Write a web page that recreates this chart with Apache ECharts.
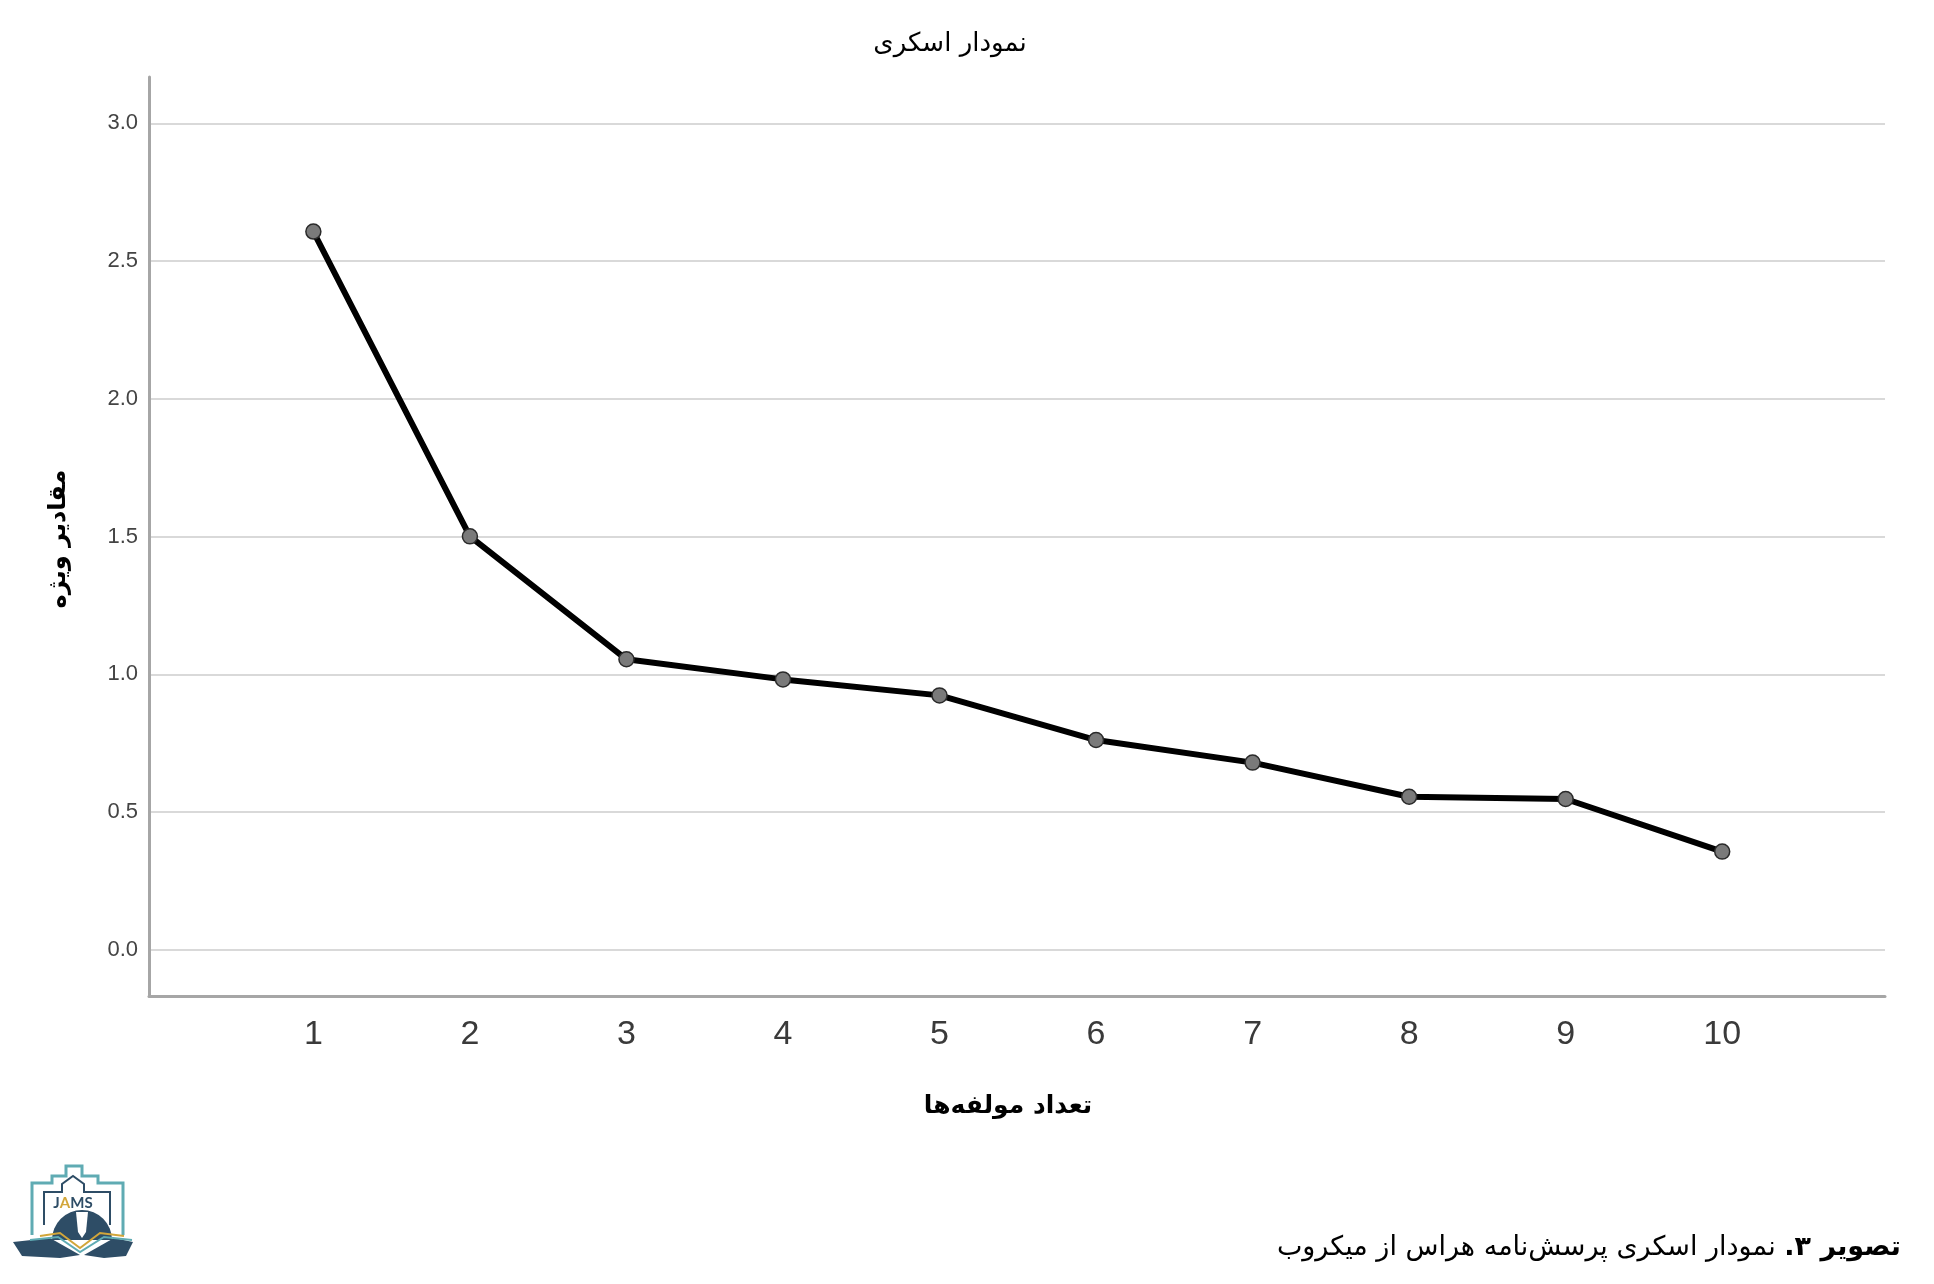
<!DOCTYPE html>
<html>
<head>
<meta charset="utf-8">
<script src="https://cdn.jsdelivr.net/npm/echarts@6/dist/echarts.min.js"></script>
<style>
html,body{margin:0;padding:0;background:#fff;}
#chart{width:1934px;height:1284px;}
</style>
</head>
<body>
<div id="chart"></div>
<script>
// ---- data ----
const components = [1, 2, 3, 4, 5, 6, 7, 8, 9, 10];
const eigenvalues = [2.607, 1.501, 1.055, 0.982, 0.924, 0.762, 0.680, 0.556, 0.548, 0.357];
const yTickValues = [0, 0.5, 1.0, 1.5, 2.0, 2.5, 3.0];
const titleText = 'نمودار اسکری';
const xAxisTitle = 'تعداد مولفه‌ها';
const yAxisTitle = 'مقادیر ویژه';
const captionBold = 'تصویر ۳.\u200F';
const captionRest = 'نمودار اسکری پرسش‌نامه هراس از میکروب';

const X_MIN = -0.05, X_MAX = 11.04;
const FA = "'DejaVu Sans', 'Noto Sans', sans-serif";

const chart = echarts.init(document.getElementById('chart'), null, {renderer: 'canvas'});

const option = {
  backgroundColor: '#ffffff',
  animation: false,
  grid: [
    // frame grid: axis lines and x labels
    {left: 149, right: 49, top: 77, bottom: 288, containLabel: false},
    // data grid: 0..3 range
    {left: 149, right: 49, top: 123.3, bottom: 334, containLabel: false}
  ],
  xAxis: [
    {
      gridIndex: 0, type: 'value', min: X_MIN, max: X_MAX,
      axisLine: {show: true, onZero: false, lineStyle: {color: '#a6a6a6', width: 3}},
      axisTick: {show: false},
      splitLine: {show: false},
      axisLabel: {
        customValues: components,
        color: '#3a3a3a', fontSize: 34, margin: 22,
        fontFamily: "'Liberation Sans Narrow', 'Liberation Sans', Arial, sans-serif"
      }
    },
    {
      gridIndex: 1, type: 'value', min: X_MIN, max: X_MAX, show: false
    }
  ],
  yAxis: [
    {
      gridIndex: 0, type: 'value', min: 0, max: 1,
      axisLine: {show: true, onZero: false, lineStyle: {color: '#a6a6a6', width: 3}},
      axisTick: {show: false}, axisLabel: {show: false}, splitLine: {show: false}
    },
    {
      gridIndex: 1, type: 'value', min: 0, max: 3, interval: 0.5,
      axisLine: {show: false, onZero: false}, axisTick: {show: false},
      splitLine: {show: true, lineStyle: {color: '#d9d9d9', width: 2}},
      axisLabel: {
        customValues: yTickValues,
        formatter: v => v.toFixed(1),
        color: '#444', fontSize: 22, margin: 11,
        fontFamily: "'Liberation Sans', Arial, sans-serif"
      }
    }
  ],
  series: [{
    type: 'line',
    xAxisIndex: 1, yAxisIndex: 1,
    data: components.map((c, i) => [c, eigenvalues[i]]),
    lineStyle: {color: '#000', width: 6},
    symbol: 'circle', symbolSize: 15,
    itemStyle: {color: '#7a7a7a', borderColor: '#2a2a2a', borderWidth: 1.5},
    z: 5
  }],
  graphic: [
    {
      type: 'text', x: 950, y: 44,
      style: {text: titleText, font: '26px ' + FA, fill: '#000', align: 'center', verticalAlign: 'middle'}
    },
    {
      type: 'text', x: 1008, y: 1106,
      style: {text: xAxisTitle, font: 'bold 25px ' + FA, fill: '#000', align: 'center', verticalAlign: 'middle'}
    },
    {
      type: 'text', x: 59, y: 539, rotation: Math.PI / 2,
      style: {text: yAxisTitle, font: 'bold 24px ' + FA, fill: '#000', align: 'center', verticalAlign: 'middle'}
    },
    {
      type: 'text', x: 1901, y: 1248,
      style: {
        text: '{n|' + captionRest + '} {b|' + captionBold + '}',
        align: 'right', verticalAlign: 'middle',
        rich: {
          n: {font: '27px ' + FA, fill: '#000'},
          b: {font: 'bold 27px ' + FA, fill: '#000'}
        },
        font: '27px ' + FA
      }
    },
    // simplified JAMS logo
    {
      type: 'group', x: 0, y: 0,
      children: [
        {
          type: 'polyline',
          shape: {points: [[32,1235],[32,1183],[52,1183],[52,1176],[66,1176],[66,1166],[82,1166],[82,1176],[98,1176],[98,1183],[123,1183],[123,1235]]},
          style: {stroke: '#5fabb3', lineWidth: 3, fill: null}
        },
        {
          type: 'polyline',
          shape: {points: [[44,1225],[44,1192],[62,1192],[62,1184],[73,1176],[84,1184],[84,1192],[110,1192],[110,1225]]},
          style: {stroke: '#2e4d66', lineWidth: 2, fill: null}
        },
        {
          type: 'sector',
          shape: {cx: 82, cy: 1240, r: 30, startAngle: Math.PI, endAngle: 2 * Math.PI},
          style: {fill: '#2e4d66'}
        },
        {
          type: 'polygon',
          shape: {points: [[76,1212],[88,1212],[86,1232],[82,1238],[78,1232]]},
          style: {fill: '#ffffff'}
        },
        {
          type: 'text', x: 73, y: 1203,
          style: {
            text: '{j|J}{a|A}{j|MS}', align: 'center', verticalAlign: 'middle',
            rich: {
              j: {font: 'bold 15px Lato, sans-serif', fill: '#2e4d66'},
              a: {font: 'bold 15px Lato, sans-serif', fill: '#d2a63a'}
            }
          }
        },
        {
          type: 'polygon',
          shape: {points: [[13,1242],[50,1238],[80,1255],[60,1258],[22,1256]]},
          style: {fill: '#2e4d66'}
        },
        {
          type: 'polygon',
          shape: {points: [[133,1242],[114,1238],[84,1255],[104,1258],[126,1256]]},
          style: {fill: '#2e4d66'}
        },
        {
          type: 'polyline',
          shape: {points: [[40,1236],[60,1233],[80,1248],[100,1233],[124,1236]]},
          style: {stroke: '#d2a63a', lineWidth: 2, fill: null}
        },
        {
          type: 'polyline',
          shape: {points: [[30,1240],[58,1237],[80,1252],[104,1237],[132,1240]]},
          style: {stroke: '#5fabb3', lineWidth: 2, fill: null}
        }
      ]
    }
  ]
};
chart.setOption(option);
</script>
</body>
</html>
